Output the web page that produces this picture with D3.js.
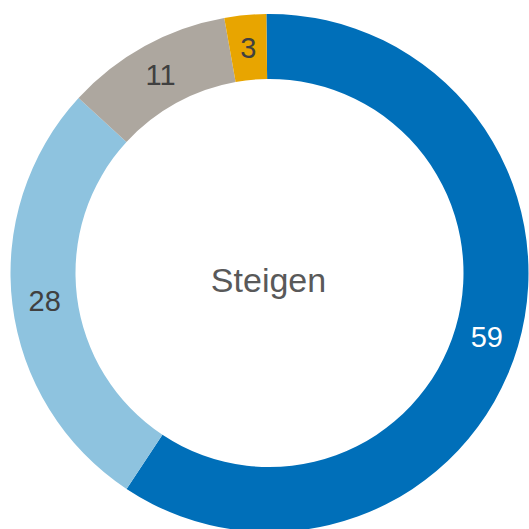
<!DOCTYPE html>
<html>
<head>
<meta charset="utf-8">
<script src="https://cdn.jsdelivr.net/npm/d3@7"></script>
<style>
  html, body { margin: 0; padding: 0; background: #fff; }
  #donut { width: 529px; height: 529px; }
  text { font-family: "Liberation Sans", Arial, sans-serif; }
</style>
</head>
<body>
<div id="donut"></div>
<script>
const categories = ["A", "B", "C", "D"];
const shares = [59.5, 27.5, 10.4, 2.6];
const labels = ["59", "28", "11", "3"];
const colors = ["#006fb9", "#8ec3df", "#ada79f", "#e8a500"];
const labelColors = ["#ffffff", "#404040", "#404040", "#404040"];
const centerTitle = "Steigen";

function renderDonut() {
  const container = d3.select("#donut");
  const width = 529, height = 529;
  const cx = 269.5, cy = 273;
  const outerR = 259, innerR = 194;

  const svg = container.append("svg").attr("width", width).attr("height", height);
  const g = svg.append("g").attr("transform", `translate(${cx},${cy})`);

  const rows = categories.map((c, i) => ({ cat: c, value: shares[i], label: labels[i], i }));

  const pie = d3.pie()
    .sort(null)
    .value(d => d.value)
    .startAngle(-0.7 * Math.PI / 180)
    .endAngle(2 * Math.PI - 0.7 * Math.PI / 180);

  const arc = d3.arc().innerRadius(innerR).outerRadius(outerR);
  const arcs = pie(rows);

  g.selectAll(".slice")
    .data(arcs)
    .enter()
    .append("path")
    .attr("class", "slice")
    .attr("d", arc)
    .attr("fill", d => colors[d.data.i]);

  g.selectAll(".lbl")
    .data(arcs)
    .enter()
    .append("text")
    .attr("class", "lbl")
    .attr("transform", d => `translate(${arc.centroid(d)})`)
    .attr("text-anchor", "middle")
    .attr("dy", "0.36em")
    .attr("font-size", 29)
    .attr("fill", d => labelColors[d.data.i])
    .text(d => d.data.label);

  g.append("text")
    .attr("text-anchor", "middle")
    .attr("x", -1)
    .attr("y", 19)
    .attr("font-size", 34)
    .attr("fill", "#595959")
    .text(centerTitle);
}

renderDonut();
</script>
</body>
</html>
